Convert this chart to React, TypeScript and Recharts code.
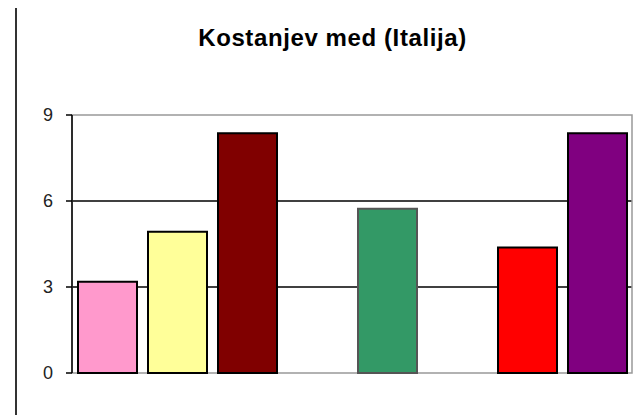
import { Bar, BarChart, Cell, CartesianGrid, ReferenceArea, XAxis, YAxis } from "recharts";

const categories = ["1", "2", "3", "4", "5", "6", "7", "8"];
const values: (number | null)[] = [3.18, 4.93, 8.36, null, 5.73, null, 4.38, 8.36];
const colors = ["#ff99cc", "#ffff99", "#800000", "#ffffff", "#339966", "#ffffff", "#ff0000", "#800080"];
const strokes = ["#000", "#000", "#000", "none", "#555", "none", "#000", "#000"];
const yTicks = [0, 3, 6, 9];
const title = "Kostanjev med (Italija)";

const data = categories.map((name, i) => ({ name, value: values[i] }));

export default function App() {
  return (
    <div style={{ position: "absolute", left: 0, top: 0, width: 633, height: 415, background: "#fff" }}>
      <div
        style={{
          position: "absolute",
          left: 15,
          top: 8,
          width: 2,
          height: 407,
          background: "#333",
        }}
      />
      <div
        style={{
          position: "absolute",
          left: 0,
          width: 665,
          top: 24,
          textAlign: "center",
          fontFamily: "'Liberation Sans', Arial, sans-serif",
          fontWeight: "bold",
          fontSize: 24,
          letterSpacing: 0.6,
          color: "#000",
        }}
      >
        {title}
      </div>
      <BarChart
        width={633}
        height={415}
        data={data}
        margin={{ top: 115, right: 1, left: 0, bottom: 42 }}
        barSize={59}
      >
        <CartesianGrid vertical={false} horizontalValues={[3, 6]} stroke="#000" strokeWidth={1.5} />
        <ReferenceArea y1={0} y2={9} fill="none" stroke="#999" strokeWidth={1.5} ifOverflow="visible" />
        <XAxis dataKey="name" hide />
        <YAxis
          width={72}
          domain={[0, 9]}
          ticks={yTicks}
          interval={0}
          tickSize={6}
          tickMargin={13}
          axisLine={{ stroke: "#000", strokeWidth: 1.5 }}
          tickLine={{ stroke: "#000", strokeWidth: 1.5 }}
          tick={{ fill: "#222", fontSize: 18, fontFamily: "'Liberation Sans', Arial, sans-serif" }}
        />
        <Bar dataKey="value" isAnimationActive={false} strokeWidth={2}>
          {data.map((d, i) => (
            <Cell key={d.name} fill={colors[i]} stroke={strokes[i]} />
          ))}
        </Bar>
      </BarChart>
    </div>
  );
}
